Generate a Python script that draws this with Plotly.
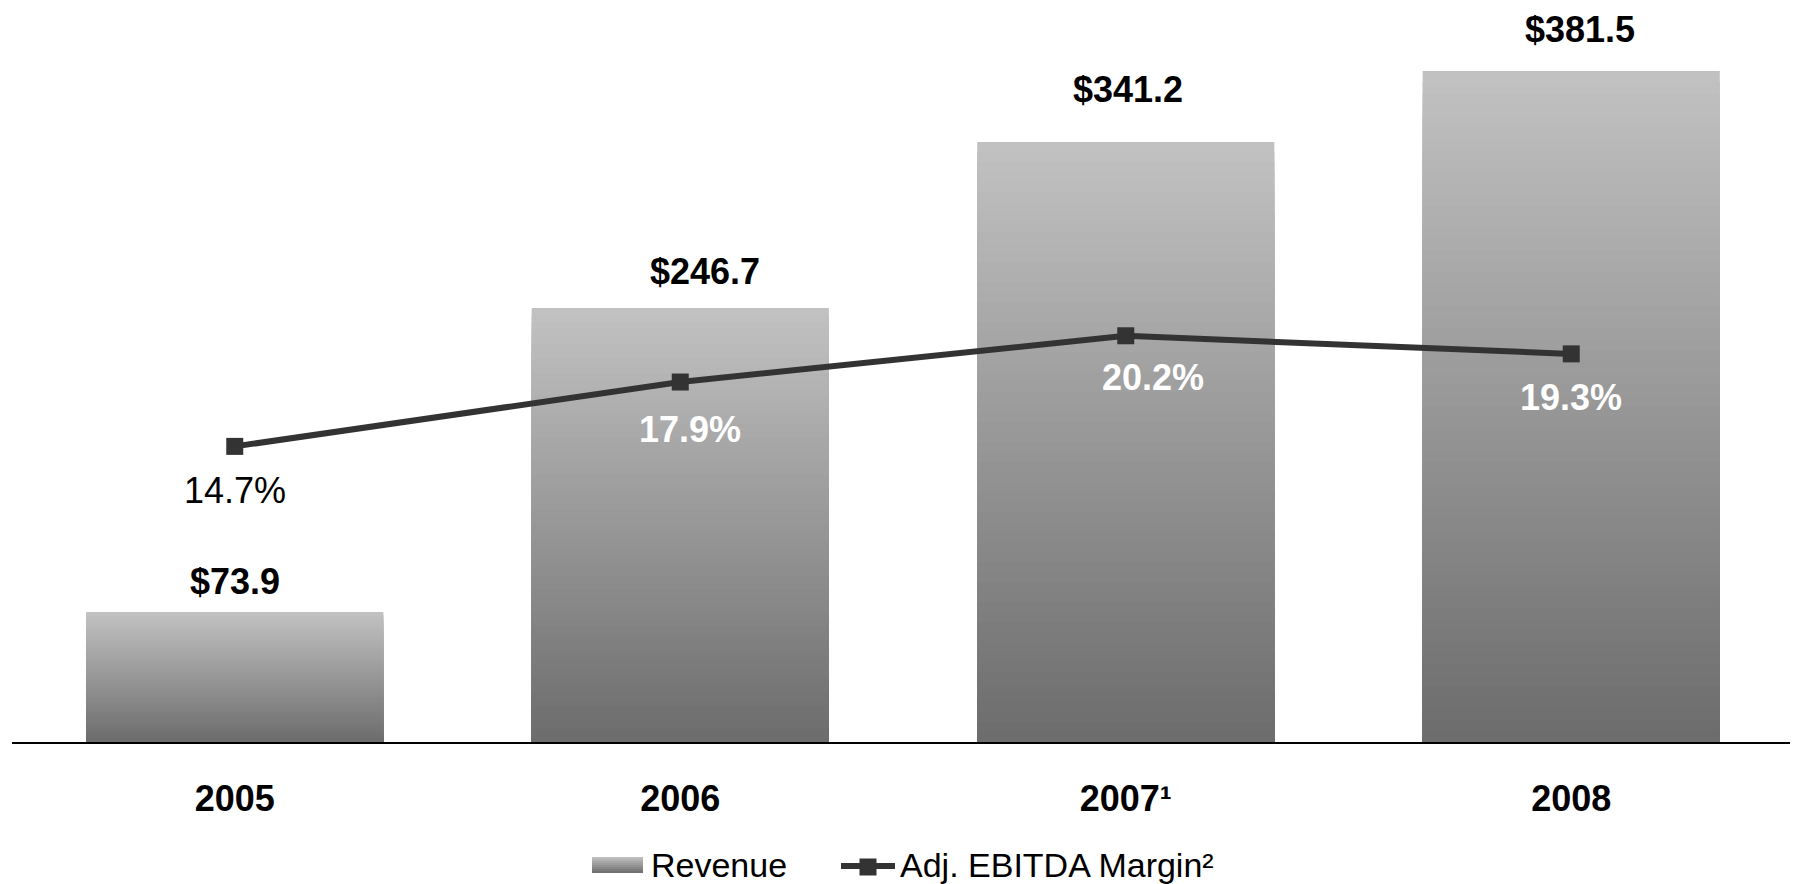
import plotly.graph_objects as go

# ---- data ----
years = ["2005", "2006", "2007¹", "2008"]
revenue = [73.9, 246.7, 341.2, 381.5]
margin = [14.7, 17.9, 20.2, 19.3]
revenue_labels = ["$73.9", "$246.7", "$341.2", "$381.5"]
margin_labels = ["14.7%", "17.9%", "20.2%", "19.3%"]
series_names = ["Revenue", "Adj. EBITDA Margin²"]

# ---- style ----
FONT = "Liberation Sans, Arial, sans-serif"
TOP_RGB = (194, 194, 194)
BOT_RGB = (108, 108, 108)
N_STEPS = 60
BAR_WIDTH = 0.667
LINE_COLOR = "#333333"

W, H = 1790, 876
ML, MR, MT, MB = 4, 4, 2, 142
PW, PH = W - ML - MR, H - MT - MB

rev_label_shift = [(0, 31), (25, 37), (2, 52), (9, 42)]
mar_label_shift = [(0, -44), (10, -47), (27, -42), (0, -44)]
mar_label_color = ["black", "white", "white", "white"]
mar_label_weight = ["normal", "bold", "bold", "bold"]


def rgb_at(f):
    return "rgb(%d,%d,%d)" % tuple(
        round(BOT_RGB[i] + (TOP_RGB[i] - BOT_RGB[i]) * f) for i in range(3))


# pixel (figure coords) -> paper coords
def px_x(px):
    return (px - ML) / PW


def px_y(py):
    return (H - MB - py) / PH


fig = go.Figure()

# Gradient bars: overlay progressively shorter, darker bars
for k in range(N_STEPS):
    frac_top = (N_STEPS - k) / N_STEPS
    f = (N_STEPS - k - 0.5) / N_STEPS
    fig.add_trace(go.Bar(
        x=list(range(len(years))),
        y=[v * frac_top for v in revenue],
        width=BAR_WIDTH,
        marker=dict(color=rgb_at(f), line=dict(width=0)),
        name=series_names[0],
        showlegend=False,
        hoverinfo="skip" if k else "x+y",
    ))

fig.add_trace(go.Scatter(
    x=list(range(len(years))), y=margin, yaxis="y2", name=series_names[1],
    mode="lines+markers",
    line=dict(color=LINE_COLOR, width=6),
    marker=dict(symbol="square", size=17, color=LINE_COLOR),
    showlegend=False,
))

annotations = []
for i, (v, t) in enumerate(zip(revenue, revenue_labels)):
    dx, dy = rev_label_shift[i]
    annotations.append(dict(
        x=i, y=v, xref="x", yref="y", text=t, showarrow=False,
        xshift=dx, yshift=dy, xanchor="center", yanchor="middle",
        font=dict(family=FONT, size=36, color="black", weight="bold"),
    ))
for i, (v, t) in enumerate(zip(margin, margin_labels)):
    dx, dy = mar_label_shift[i]
    annotations.append(dict(
        x=i, y=v, xref="x", yref="y2", text=t, showarrow=False,
        xshift=dx, yshift=dy, xanchor="center", yanchor="middle",
        font=dict(family=FONT, size=36, color=mar_label_color[i],
                  weight=mar_label_weight[i]),
    ))

# ---- custom legend (figure px coords) ----
shapes = []
box_l, box_r, box_t, box_b = 584, 635, 849, 865
n_sw = 8
for j in range(n_sw):
    y0 = box_t + (box_b - box_t) * j / n_sw
    y1 = box_t + (box_b - box_t) * (j + 1) / n_sw
    f = 1 - (j + 0.5) / n_sw
    shapes.append(dict(
        type="rect", xref="paper", yref="paper",
        x0=px_x(box_l), x1=px_x(box_r), y0=px_y(y1), y1=px_y(y0),
        fillcolor=rgb_at(f), line=dict(width=0), layer="above"))
shapes.append(dict(
    type="line", xref="paper", yref="paper",
    x0=px_x(833), x1=px_x(887), y0=px_y(858), y1=px_y(858),
    line=dict(color=LINE_COLOR, width=6)))
shapes.append(dict(
    type="rect", xref="paper", yref="paper",
    x0=px_x(851.5), x1=px_x(868.5), y0=px_y(867.5), y1=px_y(850.5),
    fillcolor=LINE_COLOR, line=dict(width=0)))
annotations.append(dict(
    x=px_x(641), y=px_y(857), xref="paper", yref="paper",
    text=series_names[0], showarrow=False, xanchor="left", yanchor="middle",
    font=dict(family=FONT, size=34, color="black")))
annotations.append(dict(
    x=px_x(890), y=px_y(857), xref="paper", yref="paper",
    text=series_names[1], showarrow=False, xanchor="left", yanchor="middle",
    font=dict(family=FONT, size=34, color="black")))

fig.update_layout(
    width=W, height=H,
    margin=dict(l=ML, r=MR, t=MT, b=MB),
    paper_bgcolor="white", plot_bgcolor="white",
    barmode="overlay",
    font=dict(family=FONT, color="black"),
    xaxis=dict(
        range=[-0.5, 3.5],
        tickmode="array", tickvals=list(range(len(years))), ticktext=years,
        showline=True, linecolor="black", linewidth=2,
        showgrid=False, zeroline=False, ticks="",
        tickfont=dict(family=FONT, size=36, color="black", weight="bold"),
        ticklabelstandoff=24,
    ),
    yaxis=dict(range=[0, 416.2], visible=False, showgrid=False),
    yaxis2=dict(range=[0, 36.4], overlaying="y", visible=False, showgrid=False),
    showlegend=False,
    annotations=annotations,
    shapes=shapes,
)

fig.write_html("out.html")
